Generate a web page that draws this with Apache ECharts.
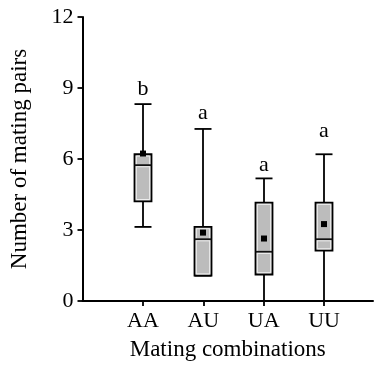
<!DOCTYPE html>
<html>
<head>
<meta charset="utf-8">
<script src="https://cdn.jsdelivr.net/npm/echarts@6/dist/echarts.min.js"></script>
<style>html,body{margin:0;padding:0;background:#fff}#c{width:378px;height:366px}</style>
</head>
<body>
<div id="c"></div>
<script>
var categories = ['AA', 'AU', 'UA', 'UU'];
var minVals = [3.13, 1.07, 0, 0];
var q1Vals = [4.21, 1.07, 1.12, 2.13];
var medianVals = [5.74, 2.61, 2.08, 2.61];
var q3Vals = [6.2, 3.13, 4.16, 4.16];
var maxVals = [8.32, 7.27, 5.18, 6.2];
var meanVals = [6.23, 2.89, 2.64, 3.25];
var letters = ['b', 'a', 'a', 'a'];
var letterPos = [8.93, 7.92, 5.74, 7.17];
var yTicks = [0, 3, 6, 9, 12];

var FONT = '"Liberation Serif", "Times New Roman", serif';
var data = categories.map(function (c, i) {
  return [i + 1, minVals[i], q1Vals[i], medianVals[i], q3Vals[i], maxVals[i], meanVals[i], letterPos[i]];
});

function renderItem(params, api) {
  var i = params.dataIndex;
  var x = api.value(0);
  var pMin = api.coord([x, api.value(1)]);
  var pQ1 = api.coord([x, api.value(2)]);
  var pMed = api.coord([x, api.value(3)]);
  var pQ3 = api.coord([x, api.value(4)]);
  var pMax = api.coord([x, api.value(5)]);
  var pMean = api.coord([x, api.value(6)]);
  var pLet = api.coord([x, api.value(7)]);
  var cx = Math.round(pQ1[0]);
  var hw = 8.5;
  var lineStyle = { stroke: '#000', lineWidth: 1.8 };
  var children = [];
  children.push({ type: 'line', shape: { x1: cx, y1: pQ3[1], x2: cx, y2: pMax[1] }, style: lineStyle });
  children.push({ type: 'line', shape: { x1: cx, y1: pQ1[1], x2: cx, y2: pMin[1] }, style: lineStyle });
  children.push({ type: 'line', shape: { x1: cx - hw, y1: pMax[1], x2: cx + hw, y2: pMax[1] }, style: lineStyle });
  children.push({ type: 'line', shape: { x1: cx - hw, y1: pMin[1], x2: cx + hw, y2: pMin[1] }, style: lineStyle });
  children.push({ type: 'rect', shape: { x: cx - hw, y: pQ3[1], width: hw * 2, height: pQ1[1] - pQ3[1] },
    style: { fill: '#bcbcbc', stroke: '#000', lineWidth: 1.8 } });
  children.push({ type: 'rect', shape: { x: cx - hw + 1.8, y: pQ3[1] + 1.8, width: hw * 2 - 3.6, height: Math.max(0, pQ1[1] - pQ3[1] - 3.6) },
    style: { fill: 'none', stroke: '#f0f0f0', lineWidth: 1 } });
  children.push({ type: 'line', shape: { x1: cx - hw, y1: pMed[1], x2: cx + hw, y2: pMed[1] }, style: { stroke: '#111', lineWidth: 1.8 } });
  children.push({ type: 'line', shape: { x1: cx - hw + 1.8, y1: pMed[1] + 1.6, x2: cx + hw - 1.8, y2: pMed[1] + 1.6 }, style: { stroke: '#f0f0f0', lineWidth: 1 } });
  children.push({ type: 'rect', shape: { x: cx - 3, y: pMean[1] - 3, width: 6, height: 6 }, style: { fill: '#000' } });
  children.push({ type: 'text', x: cx, y: pLet[1], style: { text: letters[i], font: '22px ' + FONT, fill: '#000', align: 'center', verticalAlign: 'middle' } });
  return { type: 'group', children: children };
}

var chart = echarts.init(document.getElementById('c'));
chart.setOption({
  animation: false,
  backgroundColor: '#fff',
  grid: { left: 82.5, right: 5, top: 17, bottom: 64 },
  xAxis: {
    type: 'value', min: 0, max: 4.81, interval: 1,
    name: 'Mating combinations', nameLocation: 'middle', nameGap: 37,
    nameTextStyle: { fontFamily: FONT, fontSize: 23, color: '#000' },
    splitLine: { show: false },
    axisLine: { show: true, onZero: false, lineStyle: { color: '#000', width: 2 } },
    axisTick: { show: true, length: 5, customValues: [1, 2, 3, 4], lineStyle: { color: '#000', width: 1.8 } },
    axisLabel: { customValues: [1, 2, 3, 4], margin: 9, fontFamily: FONT, fontSize: 22, color: '#000',
      formatter: function (v) { return categories[Math.round(v) - 1] || ''; } }
  },
  yAxis: {
    type: 'value', min: 0, max: 12, interval: 3,
    name: 'Number of mating pairs', nameLocation: 'middle', nameGap: 51, nameRotate: 90,
    nameTextStyle: { fontFamily: FONT, fontSize: 23, color: '#000' },
    splitLine: { show: false },
    axisLine: { show: true, lineStyle: { color: '#000', width: 2 } },
    axisTick: { show: true, length: 5, lineStyle: { color: '#000', width: 1.8 } },
    axisLabel: { margin: 9, fontFamily: FONT, fontSize: 22, color: '#000',
      formatter: function (v) { return yTicks.indexOf(v) >= 0 ? String(v) : ''; } }
  },
  series: [{
    type: 'custom',
    renderItem: renderItem,
    data: data,
    clip: false
  }]
});
</script>
</body>
</html>
